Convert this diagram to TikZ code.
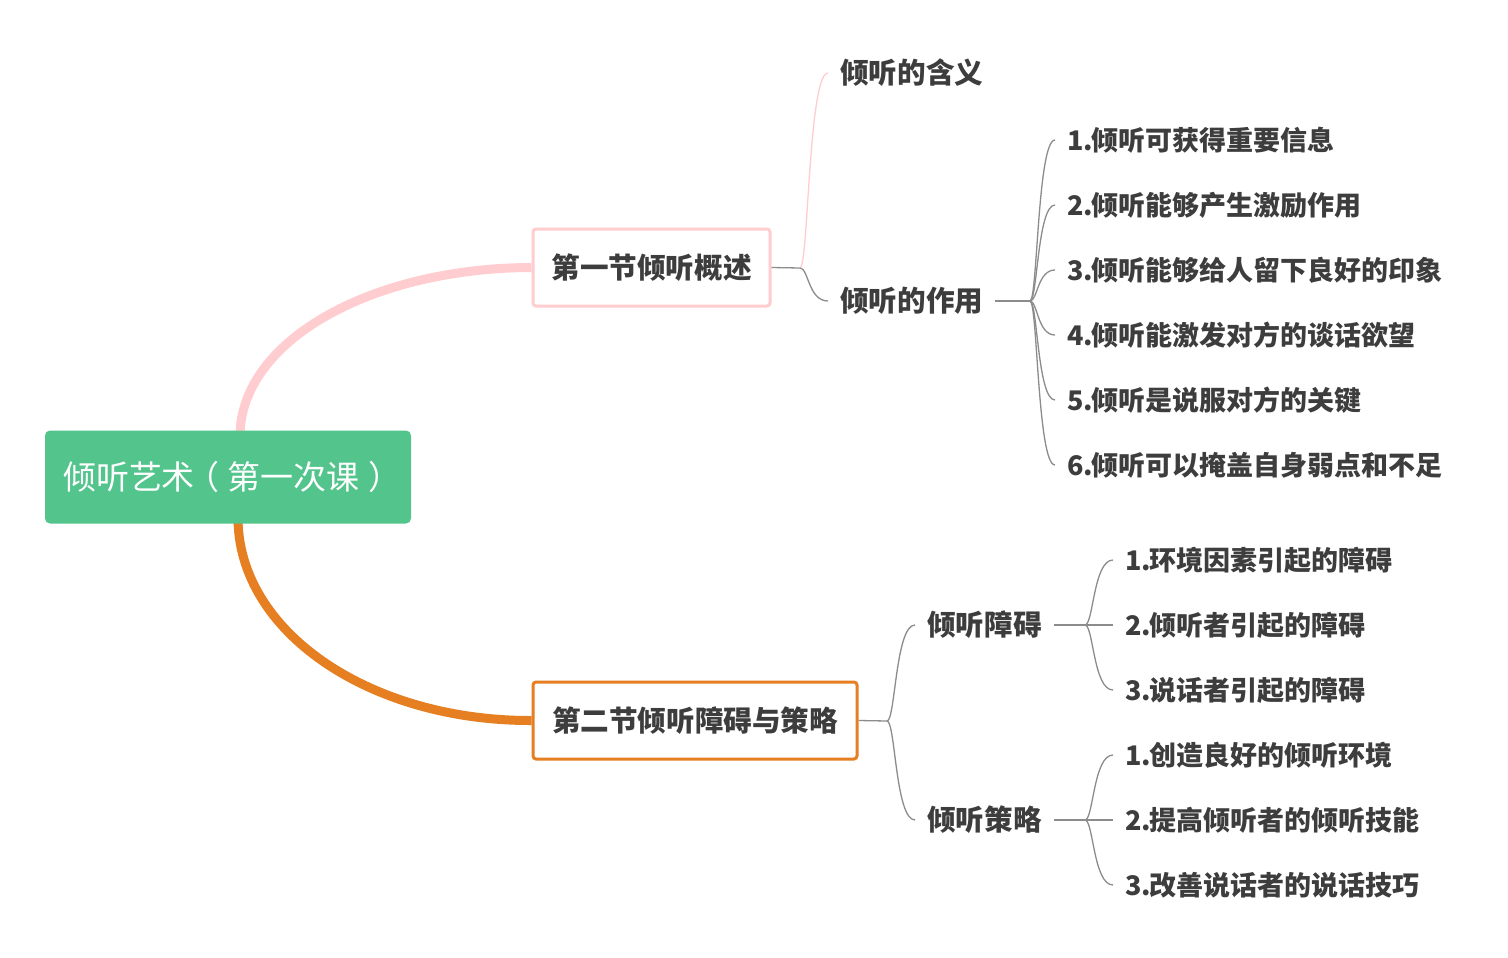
\documentclass[tikz,border=0pt]{standalone}
\usepackage{fontspec}
\newfontfamily\cjk{Noto Sans CJK SC}
\usetikzlibrary{calc,backgrounds}
\definecolor{txt}{HTML}{3D3D3D}
\definecolor{rootgreen}{HTML}{52C48C}
\definecolor{pinkc}{HTML}{FFCDCF}
\definecolor{orangec}{HTML}{E67E22}
\definecolor{linec}{HTML}{8C8C8C}
\begin{document}
\begin{tikzpicture}[x=1pt,y=-1pt,
  lbl/.style={anchor=west, inner xsep=12pt, inner ysep=2pt, text=txt,
    font=\cjk\bfseries\fontsize{28.6}{34}\selectfont},
  leaf/.style={lbl, font=\cjk\bfseries\fontsize{27}{32}\selectfont},
  sectbox/.style={draw=#1, line width=3pt, rounded corners=3pt, fill=white,
    minimum height=77pt, inner sep=0pt, text=txt,
    font=\cjk\bfseries\fontsize{28.6}{34}\selectfont},
  rootbox/.style={fill=rootgreen, rounded corners=5pt, minimum width=366pt,
    minimum height=93pt, inner sep=0pt, text=white,
    font=\cjk\fontsize{33}{38}\selectfont},
  conn/.style={draw=linec, line width=1.3pt},
  maincurve/.style={line width=9pt},
  scurve/.style={to path={let \p1=(\tikztostart), \p2=(\tikztotarget) in
    .. controls ({0.7*\x1+0.3*\x2},\y1) and ({0.7*\x1+0.3*\x2},\y2) .. (\tikztotarget)}}
]
\begin{scope}[on background layer]
\fill[white] (0,0) rectangle (1508,958);
\end{scope}
\useasboundingbox (0,0) rectangle (1508,958);

% root and sections
\node[rootbox] (root) at (228,477) {倾听艺术\kern-0.25em（\kern0.25em 第一次课\kern0.25em）\kern-0.25em};
\node[sectbox=pinkc, minimum width=237pt] (s1) at (651.5,267.5) {第一节倾听概述};
\node[sectbox=orangec, minimum width=324pt] (s2) at (695,720.5) {第二节倾听障碍与策略};

% level 2
\node[lbl] (m) at (828,73) {倾听的含义};
\node[lbl] (z) at (828,301) {倾听的作用};
\node[lbl] (a) at (915,625) {倾听障碍};
\node[lbl] (b) at (915,820) {倾听策略};

% level 3
\node[leaf] (z1) at (1055,140) {1.\kern-2pt 倾听可获得重要信息};
\node[leaf] (z2) at (1055,205) {2.\kern-2pt 倾听能够产生激励作用};
\node[leaf] (z3) at (1055,270) {3.\kern-2pt 倾听能够给人留下良好的印象};
\node[leaf] (z4) at (1055,335) {4.\kern-2pt 倾听能激发对方的谈话欲望};
\node[leaf] (z5) at (1055,400) {5.\kern-2pt 倾听是说服对方的关键};
\node[leaf] (z6) at (1055,465) {6.\kern-2pt 倾听可以掩盖自身弱点和不足};

\node[leaf] (a1) at (1113,560) {1.\kern-2pt 环境因素引起的障碍};
\node[leaf] (a2) at (1113,625) {2.\kern-2pt 倾听者引起的障碍};
\node[leaf] (a3) at (1113,690) {3.\kern-2pt 说话者引起的障碍};

\node[leaf] (b1) at (1113,755) {1.\kern-2pt 创造良好的倾听环境};
\node[leaf] (b2) at (1113,820) {2.\kern-2pt 提高倾听者的倾听技能};
\node[leaf] (b3) at (1113,885) {3.\kern-2pt 改善说话者的说话技巧};

% junctions
\coordinate (j0) at (800,268);
\coordinate (j1) at (1030,301);
\coordinate (j2) at (887,721);
\coordinate (j3) at (1085,625);
\coordinate (j4) at (1085,820);

\begin{scope}[on background layer]
\draw[maincurve, pinkc] ([xshift=12pt,yshift=-6pt]root.north)
  .. controls (240,341) and (371,268) .. (s1.west);
\draw[maincurve, orangec] ([xshift=10pt,yshift=6pt]root.south)
  .. controls (238,632) and (370,721) .. (s2.west);
\end{scope}

% connectors
\draw[conn] (s1.east) -- (j0);
\draw[conn, draw=pinkc] (j0) to[scurve] (m.west);
\draw[conn] (j0) to[scurve] (z.west);

\draw[conn] (z.east) -- (j1);
\foreach \k in {z1,z2,z3,z4,z5,z6} { \draw[conn] (j1) to[scurve] (\k.west); }

\draw[conn] (s2.east) -- (j2);
\draw[conn] (j2) to[scurve] (a.west);
\draw[conn] (j2) to[scurve] (b.west);

\draw[conn] (a.east) -- (j3);
\foreach \k in {a1,a2,a3} { \draw[conn] (j3) to[scurve] (\k.west); }
\draw[conn] (b.east) -- (j4);
\foreach \k in {b1,b2,b3} { \draw[conn] (j4) to[scurve] (\k.west); }
\end{tikzpicture}
\end{document}
